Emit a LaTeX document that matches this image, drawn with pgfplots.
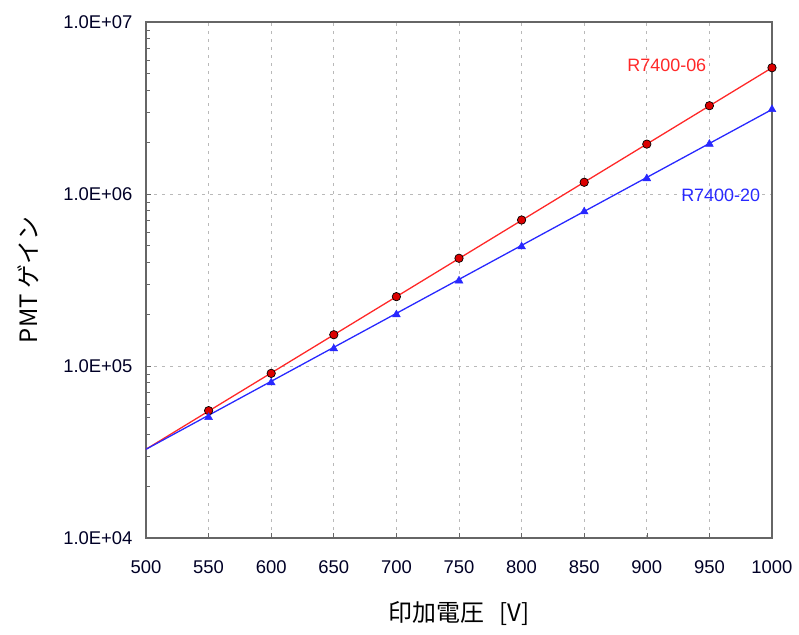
\documentclass[border=0pt]{standalone}
\usepackage{pgfplots}
\pgfplotsset{compat=1.18}
\usepackage{fontspec}
\setmainfont{Liberation Sans}
\newfontfamily\jp{Noto Sans CJK JP}
\definecolor{lred}{RGB}{255,40,40}
\definecolor{lblue}{RGB}{40,40,255}
\definecolor{mred}{RGB}{220,0,0}
\begin{document}
\begin{tikzpicture}
\useasboundingbox (-146bp,-97bp) rectangle (653bp,538bp);
\begin{axis}[
  at={(0,0)}, anchor=south west,
  scale only axis, width=626bp, height=516bp,
  xmin=500, xmax=1000, ymode=log, ymin=1e4, ymax=1e7,
  xtick={500,550,...,1000},
  ytick={1e4,1e5,1e6,1e7},
  yticklabels={1.0E+04,1.0E+05,1.0E+06,1.0E+07},
  /pgf/number format/assume math mode=true,
  /pgf/number format/set thousands separator={},
  grid=major,
  major grid style={dash pattern=on 3bp off 5bp, gray!55, line width=0.7pt},
  axis line style={gray!80!black, line width=1.2pt},
  tick style={gray!80!black, line width=0.6pt},
  major tick length=5bp, minor tick length=4bp,
  tick align=inside, xtick pos=left, ytick pos=left,
  ticklabel style={font=\fontsize{18.5}{18.5}\selectfont, text=black!85!blue},
  yticklabel style={xshift=-10bp},
  xticklabel style={yshift=-19bp},
  xlabel={印加電圧\hspace{15bp}[V]},
  ylabel={PMT\hspace{6bp}ゲイン},
  label style={font=\jp\fontsize{24}{24}\selectfont},
  xlabel style={at={(axis description cs:0.5,-0.1473)}, anchor=center},
  ylabel style={at={(axis description cs:-0.1885,0.5)}, anchor=center},
  clip=false,
]
% fitted lines
\addplot[lred, line width=1.3pt] coordinates {(500,3.28e4) (1000,5.42e6)};
\addplot[lblue, line width=1.3pt] coordinates {(500,3.28e4) (1000,3.10e6)};
% R7400-06 data
\addplot[only marks, mark=*, mark size=4.2bp, mark options={fill=mred, draw=black, line width=0.7pt}]
  coordinates {(550,5.5e4) (600,9.06e4) (650,1.52e5) (700,2.53e5) (750,4.23e5)
               (800,7.06e5) (850,1.17e6) (900,1.95e6) (950,3.26e6) (1000,5.42e6)};
% R7400-20 data
\addplot[only marks, mark=triangle*, mark size=4.5bp, mark options={fill=lblue, draw=lblue, line width=0.5pt}]
  coordinates {(550,5.03e4) (600,8.0e4) (650,1.26e5) (700,1.99e5) (750,3.13e5)
               (800,4.94e5) (850,7.89e5) (900,1.23e6) (950,1.95e6) (1000,3.10e6)};
\node[text=lred, font=\fontsize{18}{18}\selectfont] at (axis cs:916,5.6e6) {R7400-06};
\node[text=lblue, font=\fontsize{18}{18}\selectfont] at (axis cs:959,9.87e5) {R7400-20};
\end{axis}
\end{tikzpicture}
\end{document}
